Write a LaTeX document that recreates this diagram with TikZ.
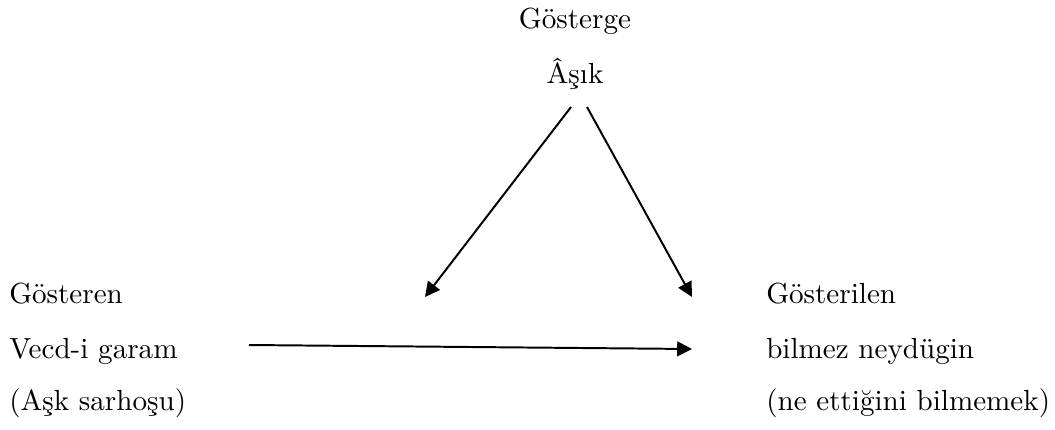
\documentclass[tikz,border=0pt]{standalone}
\usepackage{fontspec}
\setmainfont{lmroman10-regular.otf}
\usepackage{tikz}
\usetikzlibrary{arrows.meta,positioning}

\begin{document}
\begin{tikzpicture}[
  x=0.025cm, y=-0.025cm,
  lbl/.style={
    inner sep=0pt,
    anchor=base west,
    font=\fontsize{20.7}{25}\selectfont
  },
  toplbl/.style={
    inner sep=0pt,
    anchor=base,
    font=\fontsize{20.7}{25}\selectfont
  },
  arr/.style={-{Triangle[length=3.7mm, width=3.7mm]}, line width=1.4pt}
]
\useasboundingbox (0,0) rectangle (1055,429);

\node[toplbl] (gosterge) at (575,28) {Gösterge};
\node[toplbl] (asik) at (575,83) {Âşık};

\node[lbl] (gosteren) at (9,303) {Gösteren};
\node[lbl] (vecd) at (9,358) {Vecd-i garam};
\node[lbl] (sarhos) at (9,410) {(Aşk sarhoşu)};

\node[lbl] (gosterilen) at (766,303) {Gösterilen};
\node[lbl] (bilmez) at (766,358) {bilmez neydügin};
\node[lbl] (etmek) at (766,410) {(ne ettiğini bilmemek)};

\coordinate (asikL) at (571,107);
\coordinate (asikR) at (587,107);
\coordinate (midL) at (425,297);
\coordinate (midR) at (692,297);
\coordinate (vecdE) at (249,345);
\coordinate (bilmezW) at (692,349);

\draw[arr] (asikL) -- (midL);
\draw[arr] (asikR) -- (midR);
\draw[arr] (vecdE) -- (bilmezW);
\end{tikzpicture}
\end{document}
